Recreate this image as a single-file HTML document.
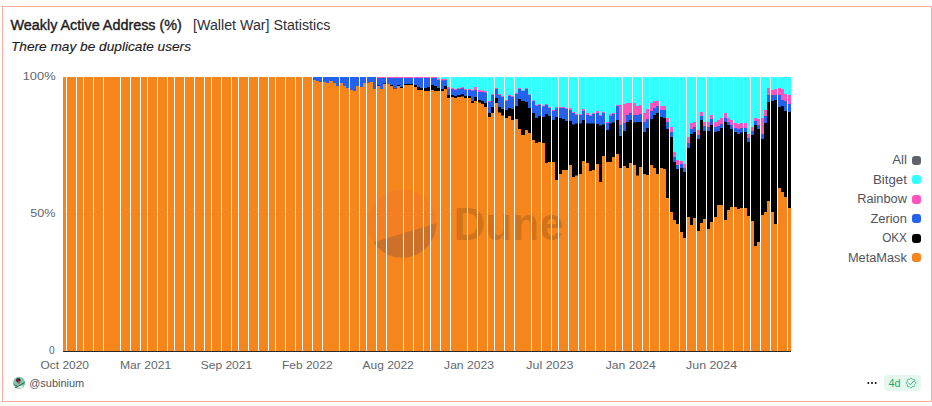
<!DOCTYPE html>
<html lang="en"><head><meta charset="utf-8"><title>Weakly Active Address (%)</title>
<style>
html,body{margin:0;padding:0;background:#fff;}
body{width:932px;height:406px;overflow:hidden;font-family:"Liberation Sans",sans-serif;}
svg{display:block;}
</style></head><body>
<svg width="932" height="406" viewBox="0 0 932 406" font-family="Liberation Sans, sans-serif">
<rect x="2.5" y="6.5" width="929" height="395" fill="#fff" stroke="#faad9d" stroke-width="1"/>
<text x="10.5" y="30" font-size="14" fill="#1c1c21" stroke="#1c1c21" stroke-width="0.38" stroke-linejoin="round" textLength="171.4" lengthAdjust="spacingAndGlyphs">Weakly Active Address (%)</text>
<text x="193" y="30" font-size="14" fill="#2e2e35" textLength="137.5" lengthAdjust="spacingAndGlyphs">[Wallet War] Statistics</text>
<text x="11" y="50.5" font-size="13.5" font-style="italic" fill="#1c1c21" stroke="#1c1c21" stroke-width="0.15" textLength="180" lengthAdjust="spacingAndGlyphs">There may be duplicate users</text>
<g font-size="11.5" fill="#63666d">
<text x="22.7" y="80" textLength="32.9" lengthAdjust="spacingAndGlyphs">100%</text>
<text x="30.3" y="217" textLength="25.3" lengthAdjust="spacingAndGlyphs">50%</text>
<text x="49" y="354" textLength="5.7" lengthAdjust="spacingAndGlyphs">0</text>
<text x="40.50" y="369" textLength="48.5" lengthAdjust="spacingAndGlyphs">Oct 2020</text>
<text x="120.00" y="369" textLength="51.2" lengthAdjust="spacingAndGlyphs">Mar 2021</text>
<text x="200.70" y="369" textLength="51.5" lengthAdjust="spacingAndGlyphs">Sep 2021</text>
<text x="282.05" y="369" textLength="50.5" lengthAdjust="spacingAndGlyphs">Feb 2022</text>
<text x="362.55" y="369" textLength="51.2" lengthAdjust="spacingAndGlyphs">Aug 2022</text>
<text x="444.10" y="369" textLength="49.8" lengthAdjust="spacingAndGlyphs">Jan 2023</text>
<text x="526.35" y="369" textLength="47" lengthAdjust="spacingAndGlyphs">Jul 2023</text>
<text x="605.70" y="369" textLength="50" lengthAdjust="spacingAndGlyphs">Jan 2024</text>
<text x="686.05" y="369" textLength="51" lengthAdjust="spacingAndGlyphs">Jun 2024</text>
</g>
<rect x="63" y="214" width="728" height="1" fill="#e3e3e6"/>
<g>
<path fill="#33ffff" d="M437 77H440V351H437zM441 77H444V351H441zM444 77H447V351H444zM447 77H450V351H447zM451 77H454V351H451zM454 77H457V351H454zM457 77H461V351H457zM461 77H464V351H461zM464 77H467V351H464zM468 77H471V351H468zM471 77H474V351H471zM474 77H477V351H474zM478 77H481V351H478zM481 77H484V351H481zM484 77H487V351H484zM488 77H491V351H488zM491 77H494V351H491zM495 77H498V351H495zM498 77H501V351H498zM501 77H504V351H501zM505 77H508V351H505zM508 77H511V351H508zM511 77H514V351H511zM515 77H518V351H515zM518 77H521V351H518zM521 77H525V351H521zM525 77H528V351H525zM528 77H531V351H528zM532 77H535V351H532zM535 77H538V351H535zM538 77H541V351H538zM542 77H545V351H542zM545 77H548V351H545zM548 77H551V351H548zM552 77H555V351H552zM555 77H558V351H555zM559 77H562V351H559zM562 77H565V351H562zM565 77H568V351H565zM569 77H572V351H569zM572 77H575V351H572zM575 77H578V351H575zM579 77H582V351H579zM582 77H585V351H582zM586 77H589V351H586zM589 77H592V351H589zM592 77H595V351H592zM596 77H599V351H596zM599 77H602V351H599zM602 77H605V351H602zM606 77H609V351H606zM609 77H612V351H609zM612 77H615V351H612zM616 77H619V351H616zM619 77H622V351H619zM623 77H626V351H623zM626 77H629V351H626zM629 77H632V351H629zM633 77H636V351H633zM636 77H639V351H636zM639 77H642V351H639zM643 77H646V351H643zM646 77H649V351H646zM650 77H653V351H650zM653 77H656V351H653zM656 77H659V351H656zM660 77H663V351H660zM663 77H666V351H663zM666 77H669V351H666zM670 77H673V351H670zM673 77H676V351H673zM676 77H679V351H676zM680 77H683V351H680zM683 77H686V351H683zM687 77H690V351H687zM690 77H693V351H690zM693 77H696V351H693zM697 77H700V351H697zM700 77H703V351H700zM703 77H706V351H703zM707 77H710V351H707zM710 77H713V351H710zM714 77H717V351H714zM717 77H720V351H717zM720 77H723V351H720zM724 77H727V351H724zM727 77H730V351H727zM730 77H733V351H730zM734 77H737V351H734zM737 77H740V351H737zM740 77H743V351H740zM744 77H747V351H744zM747 77H750V351H747zM751 77H754V351H751zM754 77H757V351H754zM757 77H760V351H757zM761 77H764V351H761zM764 77H767V351H764zM767 77H770V351H767zM771 77H774V351H771zM774 77H777V351H774zM778 77H781V351H778zM781 77H784V351H781zM784 77H787V351H784zM788 77H791V351H788z"/>
<path fill="#ff54bb" d="M377 77H380V351H377zM380 77H383V351H380zM383 77H386V351H383zM387 77H390V351H387zM390 77H393V351H390zM393 77H397V351H393zM397 77H400V351H397zM400 77H403V351H400zM404 77H413V351H404zM414 77H417V351H414zM417 77H420V351H417zM420 77H423V351H420zM424 77H427V351H424zM427 77H430V351H427zM431 77H434V351H431zM434 77H437V351H434zM437 79H440V351H437zM441 79H444V351H441zM444 79H447V351H444zM447 87H450V351H447zM451 88H454V351H451zM454 89H457V351H454zM457 88H461V351H457zM461 87H464V351H461zM464 89H467V351H464zM468 89H471V351H468zM471 90H474V351H471zM474 87H477V351H474zM478 90H481V351H478zM481 90.4H484V351H481zM484 91H487V351H484zM488 101H491V351H488zM491 94H494V351H491zM495 88H498V351H495zM498 94H501V351H498zM501 96H504V351H501zM505 100H508V351H505zM508 95H511V351H508zM511 96H514V351H511zM515 93H518V351H515zM518 88H521V351H518zM521 90.4H525V351H521zM525 88H528V351H525zM528 94.4H531V351H528zM532 100.4H535V351H532zM535 105H538V351H535zM538 104H541V351H538zM542 105.6H545V351H542zM545 104H548V351H545zM548 107H551V351H548zM552 110H555V351H552zM555 107H558V351H555zM559 107H562V351H559zM562 107H565V351H562zM565 108H568V351H565zM569 108H572V351H569zM572 112H575V351H572zM575 114H578V351H575zM579 114H582V351H579zM582 109H585V351H582zM586 113H589V351H586zM589 115H592V351H589zM592 113H595V351H592zM596 111H599V351H596zM599 115H602V351H599zM602 112H605V351H602zM606 122H609V351H606zM609 114H612V351H609zM612 113H615V351H612zM616 105H619V351H616zM619 105H622V351H619zM623 104H626V351H623zM626 103H629V351H626zM629 103H632V351H629zM633 103H636V351H633zM636 106H639V351H636zM639 105H642V351H639zM643 113H646V351H643zM646 109H649V351H646zM650 103H653V351H650zM653 101H656V351H653zM656 101H659V351H656zM660 106H663V351H660zM663 106H666V351H663zM666 118H669V351H666zM670 127H673V351H670zM673 152H676V351H673zM676 160H679V351H676zM680 161H683V351H680zM683 164H686V351H683zM687 137H690V351H687zM690 123H693V351H690zM693 122H696V351H693zM697 130H700V351H697zM700 112H703V351H700zM703 122H706V351H703zM707 122H710V351H707zM710 115H713V351H710zM714 122H717V351H714zM717 120H720V351H717zM720 118H723V351H720zM724 113H727V351H724zM727 118H730V351H727zM730 120H733V351H730zM734 123H737V351H734zM737 124H740V351H737zM740 123H743V351H740zM744 123H747V351H744zM747 134H750V351H747zM751 127H754V351H751zM754 118H757V351H754zM757 119H760V351H757zM761 118H764V351H761zM764 110H767V351H764zM767 88H770V351H767zM771 90H774V351H771zM774 89H777V351H774zM778 88H781V351H778zM781 89H784V351H781zM784 94H787V351H784zM788 95H791V351H788z"/>
<path fill="#2461ed" d="M313 77H316V351H313zM316 77H319V351H316zM319 77H322V351H319zM323 77H326V351H323zM326 77H329V351H326zM329 77H333V351H329zM333 77H336V351H333zM336 77H339V351H336zM340 77H343V351H340zM343 77H346V351H343zM346 77H349V351H346zM350 77H353V351H350zM353 77H356V351H353zM356 77H359V351H356zM360 77H363V351H360zM363 77H366V351H363zM367 77H370V351H367zM370 77H373V351H370zM373 77H376V351H373zM377 78H380V351H377zM380 78H383V351H380zM383 78H386V351H383zM387 78H390V351H387zM390 78H393V351H390zM393 78H397V351H393zM397 78H400V351H397zM400 78H403V351H400zM404 78H413V351H404zM414 78H417V351H414zM417 78H420V351H417zM420 78H423V351H420zM424 78H427V351H424zM427 78H430V351H427zM431 78H434V351H431zM434 78H437V351H434zM437 80H440V351H437zM441 80.6H444V351H441zM444 80H447V351H444zM447 89H450V351H447zM451 89H454V351H451zM454 90H457V351H454zM457 89H461V351H457zM461 88H464V351H461zM464 90H467V351H464zM468 90H471V351H468zM471 91H474V351H471zM474 90H477V351H474zM478 92H481V351H478zM481 92H484V351H481zM484 92.5H487V351H484zM488 102H491V351H488zM491 95H494V351H491zM495 89H498V351H495zM498 95H501V351H498zM501 97H504V351H501zM505 101H508V351H505zM508 96H511V351H508zM511 97H514V351H511zM515 94H518V351H515zM518 89H521V351H518zM521 91H525V351H521zM525 89H528V351H525zM528 95H531V351H528zM532 101H535V351H532zM535 106H538V351H535zM538 105H541V351H538zM542 106.6H545V351H542zM545 105H548V351H545zM548 108H551V351H548zM552 111H555V351H552zM555 108H558V351H555zM559 108H562V351H559zM562 108H565V351H562zM565 109H568V351H565zM569 110H572V351H569zM572 113H575V351H572zM575 115H578V351H575zM579 115H582V351H579zM582 111H585V351H582zM586 115H589V351H586zM589 116H592V351H589zM592 114H595V351H592zM596 113H599V351H596zM599 116H602V351H599zM602 113H605V351H602zM606 123H609V351H606zM609 116H612V351H609zM612 114H615V351H612zM616 106H619V351H616zM619 125H622V351H619zM623 123H626V351H623zM626 115H629V351H626zM629 113H632V351H629zM633 115H636V351H633zM636 115H639V351H636zM639 114H642V351H639zM643 122H646V351H643zM646 119H649V351H646zM650 111H653V351H650zM653 108H656V351H653zM656 106H659V351H656zM660 110H663V351H660zM663 110H666V351H663zM666 122H669V351H666zM670 132H673V351H670zM673 157H676V351H673zM676 165H679V351H676zM680 164H683V351H680zM683 168H686V351H683zM687 143H690V351H687zM690 129H693V351H690zM693 127H696V351H693zM697 135H700V351H697zM700 116H703V351H700zM703 126H706V351H703zM707 127H710V351H707zM710 119H713V351H710zM714 127H717V351H714zM717 126H720V351H717zM720 124H723V351H720zM724 118H727V351H724zM727 122H730V351H727zM730 125H733V351H730zM734 128H737V351H734zM737 129H740V351H737zM740 128H743V351H740zM744 128H747V351H744zM747 138H750V351H747zM751 131H754V351H751zM754 121H757V351H754zM757 125H760V351H757zM761 134H764V351H761zM764 116H767V351H764zM767 95H770V351H767zM771 95H774V351H771zM774 95H777V351H774zM778 95H781V351H778zM781 100H784V351H781zM784 101H787V351H784zM788 104H791V351H788z"/>
<path fill="#000000" d="M367 82.4H370V351H367zM377 85.6H380V351H377zM383 83.6H386V351H383zM387 83.4H390V351H387zM390 85H393V351H390zM393 88H397V351H393zM397 85H400V351H397zM400 87H403V351H400zM404 84H413V351H404zM414 85H417V351H414zM417 87H420V351H417zM420 88H423V351H420zM424 88H427V351H424zM427 87H430V351H427zM431 85H434V351H431zM434 86H437V351H434zM437 88H440V351H437zM441 89H444V351H441zM444 86H447V351H444zM447 95H450V351H447zM451 95H454V351H451zM454 96H457V351H454zM457 95H461V351H457zM461 94H464V351H461zM464 96H467V351H464zM468 96H471V351H468zM471 101H474V351H471zM474 97H477V351H474zM478 100H481V351H478zM481 101H484V351H481zM484 103H487V351H484zM488 113H491V351H488zM491 107H494V351H491zM495 98H498V351H495zM498 107H501V351H498zM501 109H504V351H501zM505 110H508V351H505zM508 108H511V351H508zM511 109H514V351H511zM515 106H518V351H515zM518 99H521V351H518zM521 101H525V351H521zM525 102H528V351H525zM528 108H531V351H528zM532 113H535V351H532zM535 118H538V351H535zM538 116H541V351H538zM542 117H545V351H542zM545 114H548V351H545zM548 116H551V351H548zM552 120H555V351H552zM555 117H558V351H555zM559 118H562V351H559zM562 119H565V351H562zM565 121H568V351H565zM569 121H572V351H569zM572 124.5H575V351H572zM575 123.5H578V351H575zM579 123.5H582V351H579zM582 120H585V351H582zM586 123.5H589V351H586zM589 123.5H592V351H589zM592 123.5H595V351H592zM596 124H599V351H596zM599 125.5H602V351H599zM602 124.5H605V351H602zM606 130H609V351H606zM609 123.5H612V351H609zM612 122.6H615V351H612zM616 120H619V351H616zM619 136H622V351H619zM623 131H626V351H623zM626 122H629V351H626zM629 120H632V351H629zM633 122.6H636V351H633zM636 122H639V351H636zM639 122H642V351H639zM643 132H646V351H643zM646 128H649V351H646zM650 119H653V351H650zM653 115H656V351H653zM656 113H659V351H656zM660 117H663V351H660zM663 118H666V351H663zM666 129H669V351H666zM670 137H673V351H670zM673 162H676V351H673zM676 169H679V351H676zM680 168H683V351H680zM683 172H686V351H683zM687 148H690V351H687zM690 134H693V351H690zM693 132H696V351H693zM697 139H700V351H697zM700 120H703V351H700zM703 131H706V351H703zM707 131H710V351H707zM710 125H713V351H710zM714 132H717V351H714zM717 131H720V351H717zM720 128H723V351H720zM724 122H727V351H724zM727 125H730V351H727zM730 129H733V351H730zM734 132H737V351H734zM737 134H740V351H737zM740 132.6H743V351H740zM744 132H747V351H744zM747 142H750V351H747zM751 135H754V351H751zM754 125H757V351H754zM757 129H760V351H757zM761 139H764V351H761zM764 123H767V351H764zM767 102H770V351H767zM771 101H774V351H771zM774 100H777V351H774zM778 107H781V351H778zM781 106H784V351H781zM784 111H787V351H784zM788 112H791V351H788z"/>
<path fill="#f6851b" d="M63 77H66V351H63zM67 77H76V351H67zM77 77H83V351H77zM84 77H93V351H84zM94 77H103V351H94zM104 77H120V351H104zM121 77H130V351H121zM131 77H140V351H131zM141 77H147V351H141zM148 77H157V351H148zM158 77H167V351H158zM168 77H174V351H168zM175 77H184V351H175zM185 77H194V351H185zM195 77H204V351H195zM205 77H211V351H205zM212 77H221V351H212zM222 77H231V351H222zM232 77H238V351H232zM239 77H248V351H239zM249 77H258V351H249zM259 77H268V351H259zM269 77H275V351H269zM276 77H285V351H276zM286 77H295V351H286zM296 77H302V351H296zM303 77H312V351H303zM313 80H316V351H313zM316 81H319V351H316zM319 82H322V351H319zM323 82H326V351H323zM326 83H329V351H326zM329 81H333V351H329zM333 83H336V351H333zM336 86H339V351H336zM340 83H343V351H340zM343 86H346V351H343zM346 88H349V351H346zM350 90H353V351H350zM353 91H356V351H353zM356 86H359V351H356zM360 87H363V351H360zM363 83H366V351H363zM367 82.6H370V351H367zM370 82H373V351H370zM373 89H376V351H373zM377 86H380V351H377zM380 89H383V351H380zM383 84H386V351H383zM387 83.6H390V351H387zM390 86H393V351H390zM393 88.6H397V351H393zM397 86H400V351H397zM400 88H403V351H400zM404 85H413V351H404zM414 87H417V351H414zM417 90H420V351H417zM420 90H423V351H420zM424 91H427V351H424zM427 91H430V351H427zM431 90H434V351H431zM434 91H437V351H434zM437 91H440V351H437zM441 91H444V351H441zM444 89H447V351H444zM447 98H450V351H447zM451 97H454V351H451zM454 98H457V351H454zM457 97H461V351H457zM461 96.5H464V351H461zM464 98H467V351H464zM468 98H471V351H468zM471 103H474V351H471zM474 101H477V351H474zM478 102.5H481V351H478zM481 104H484V351H481zM484 107H487V351H484zM488 117H491V351H488zM491 113H494V351H491zM495 103H498V351H495zM498 112.5H501V351H498zM501 115.6H504V351H501zM505 118H508V351H505zM508 116H511V351H508zM511 120H514V351H511zM515 119H518V351H515zM518 129H521V351H518zM521 135H525V351H521zM525 130H528V351H525zM528 133H531V351H528zM532 140H535V351H532zM535 143H538V351H535zM538 142H541V351H538zM542 143H545V351H542zM545 163H548V351H545zM548 162H551V351H548zM552 162H555V351H552zM555 180H558V351H555zM559 174H562V351H559zM562 170H565V351H562zM565 170H568V351H565zM569 165H572V351H569zM572 177H575V351H572zM575 175.5H578V351H575zM579 174H582V351H579zM582 161H585V351H582zM586 163H589V351H586zM589 171H592V351H589zM592 170H595V351H592zM596 164H599V351H596zM599 182H602V351H599zM602 156H605V351H602zM606 162H609V351H606zM609 162H612V351H609zM612 157H615V351H612zM616 154H619V351H616zM619 168H622V351H619zM623 166H626V351H623zM626 168H629V351H626zM629 163H632V351H629zM633 165H636V351H633zM636 175.5H639V351H636zM639 167H642V351H639zM643 174H646V351H643zM646 175H649V351H646zM650 165H653V351H650zM653 168H656V351H653zM656 174H659V351H656zM660 168H663V351H660zM663 169H666V351H663zM666 198H669V351H666zM670 212H673V351H670zM673 220H676V351H673zM676 224H679V351H676zM680 232H683V351H680zM683 238H686V351H683zM687 217H690V351H687zM690 225H693V351H690zM693 218H696V351H693zM697 231H700V351H697zM700 223H703V351H700zM703 219H706V351H703zM707 229H710V351H707zM710 222H713V351H710zM714 217H717V351H714zM717 205H720V351H717zM720 205H723V351H720zM724 220H727V351H724zM727 210H730V351H727zM730 207H733V351H730zM734 207H737V351H734zM737 209H740V351H737zM740 208H743V351H740zM744 208H747V351H744zM747 216H750V351H747zM751 221H754V351H751zM754 246H757V351H754zM757 242H760V351H757zM761 215H764V351H761zM764 212H767V351H764zM767 201H770V351H767zM771 212H774V351H771zM774 224H777V351H774zM778 188H781V351H778zM781 192H784V351H781zM784 197H787V351H784zM788 208H791V351H788z"/>
</g>
<rect x="63" y="351" width="728" height="1" fill="#2a2a2e"/>
<g opacity="1">
<clipPath id="lc"><circle cx="402.2" cy="223.6" r="34.2"/></clipPath>
<polygon clip-path="url(#lc)" points="360,246.5 440,222.2 440,185 360,185" fill="#f4603e" fill-opacity="0.16"/>
<polygon clip-path="url(#lc)" points="360,246.5 440,222.2 440,262 360,262" fill="#1e1870" fill-opacity="0.19"/>
<text x="453.6" y="240" font-size="46.5" font-weight="bold" fill="#3a2a20" fill-opacity="0.19" textLength="110" lengthAdjust="spacingAndGlyphs">Dune</text>
<path fill="#fff" d="M366 186h1v28h-1zM366 215h1v47h-1zM376 186h1v28h-1zM376 215h1v47h-1zM386 186h1v28h-1zM386 215h1v47h-1zM403 186h1v28h-1zM403 215h1v47h-1zM413 186h1v28h-1zM413 215h1v47h-1zM423 186h1v28h-1zM423 215h1v47h-1zM430 186h1v28h-1zM430 215h1v47h-1zM440 186h1v28h-1zM440 215h1v47h-1zM450 186h1v28h-1zM450 215h1v47h-1zM467 186h1v28h-1zM467 215h1v47h-1zM477 186h1v28h-1zM477 215h1v47h-1zM487 186h1v28h-1zM487 215h1v47h-1zM494 186h1v28h-1zM494 215h1v47h-1zM504 186h1v28h-1zM504 215h1v47h-1zM514 186h1v28h-1zM514 215h1v47h-1zM531 186h1v28h-1zM531 215h1v47h-1zM541 186h1v28h-1zM541 215h1v47h-1zM551 186h1v28h-1zM551 215h1v47h-1zM558 186h1v28h-1zM558 215h1v47h-1z"/>
</g>
<g font-size="12" fill="#50535a">
<text x="892.20" y="164.25" textLength="14.7" lengthAdjust="spacingAndGlyphs">All</text><rect x="912" y="156" width="9" height="9" rx="3" fill="#5f6368"/>
<text x="873.00" y="183.75" textLength="33.9" lengthAdjust="spacingAndGlyphs">Bitget</text><rect x="912" y="175" width="9" height="9" rx="3" fill="#33ffff"/>
<text x="857.20" y="203.25" textLength="49.7" lengthAdjust="spacingAndGlyphs">Rainbow</text><rect x="912" y="195" width="9" height="9" rx="3" fill="#ff54bb"/>
<text x="870.40" y="222.75" textLength="36.5" lengthAdjust="spacingAndGlyphs">Zerion</text><rect x="912" y="214" width="9" height="9" rx="3" fill="#2461ed"/>
<text x="882.20" y="242.25" textLength="24.7" lengthAdjust="spacingAndGlyphs">OKX</text><rect x="912" y="234" width="9" height="9" rx="3" fill="#000000"/>
<text x="847.90" y="261.75" textLength="59" lengthAdjust="spacingAndGlyphs">MetaMask</text><rect x="912" y="253" width="9" height="9" rx="3" fill="#f6851b"/>
</g>
<clipPath id="av"><circle cx="19.05" cy="382.9" r="6.1"/></clipPath>
<g clip-path="url(#av)"><rect x="12" y="376" width="15" height="14" fill="#7fc6a6"/>
<ellipse cx="18.3" cy="380.3" rx="2.3" ry="2.2" fill="#5c1f2e"/>
<ellipse cx="18.7" cy="382.3" rx="1.3" ry="1.6" fill="#9a5a6a"/>
<ellipse cx="20.3" cy="386.8" rx="2.8" ry="1.6" fill="#dfe9e2"/>
<path d="M15 388l9.8-5.6" stroke="#2f5346" stroke-width="1" fill="none"/>
<path d="M14 384.5l4 2.2" stroke="#3f7a64" stroke-width="1" fill="none"/>
</g>
<text x="29.2" y="387" font-size="11.5" fill="#50535a" textLength="55" lengthAdjust="spacingAndGlyphs">@subinium</text>
<g fill="#111"><circle cx="868.3" cy="383" r="1"/><circle cx="872" cy="383" r="1"/><circle cx="875.7" cy="383" r="1"/></g>
<rect x="884" y="375" width="37" height="16" rx="4" fill="#e6f7ee"/>
<text x="888.6" y="387.2" font-size="11.5" fill="#1fa971" textLength="12" lengthAdjust="spacingAndGlyphs">4d</text>
<g fill="none" stroke="#2ab57a" stroke-width="0.9" stroke-linejoin="round"><path d="M911.00 378.18L911.31 378.25L911.60 378.43L911.86 378.68L912.08 378.95L912.30 379.18L912.52 379.32L912.79 379.38L913.10 379.37L913.44 379.34L913.81 379.34L914.14 379.42L914.41 379.59L914.58 379.86L914.66 380.19L914.66 380.56L914.63 380.90L914.62 381.21L914.68 381.48L914.82 381.70L915.05 381.92L915.32 382.14L915.57 382.40L915.75 382.69L915.82 383.00L915.75 383.31L915.57 383.60L915.32 383.86L915.05 384.08L914.82 384.30L914.68 384.52L914.62 384.79L914.63 385.10L914.66 385.44L914.66 385.81L914.58 386.14L914.41 386.41L914.14 386.58L913.81 386.66L913.44 386.66L913.10 386.63L912.79 386.62L912.52 386.68L912.30 386.82L912.08 387.05L911.86 387.32L911.60 387.57L911.31 387.75L911.00 387.82L910.69 387.75L910.40 387.57L910.14 387.32L909.92 387.05L909.70 386.82L909.48 386.68L909.21 386.62L908.90 386.63L908.56 386.66L908.19 386.66L907.86 386.58L907.59 386.41L907.42 386.14L907.34 385.81L907.34 385.44L907.37 385.10L907.38 384.79L907.32 384.52L907.18 384.30L906.95 384.08L906.68 383.86L906.43 383.60L906.25 383.31L906.18 383.00L906.25 382.69L906.43 382.40L906.68 382.14L906.95 381.92L907.18 381.70L907.32 381.48L907.38 381.21L907.37 380.90L907.34 380.56L907.34 380.19L907.42 379.86L907.59 379.59L907.86 379.42L908.19 379.34L908.56 379.34L908.90 379.37L909.21 379.38L909.48 379.32L909.70 379.18L909.92 378.95L910.14 378.68L910.40 378.43L910.69 378.25z"/><path d="M908.4 382.8l2 2 3.4-3.8" stroke-linecap="round"/></g>
</svg>
</body></html>
